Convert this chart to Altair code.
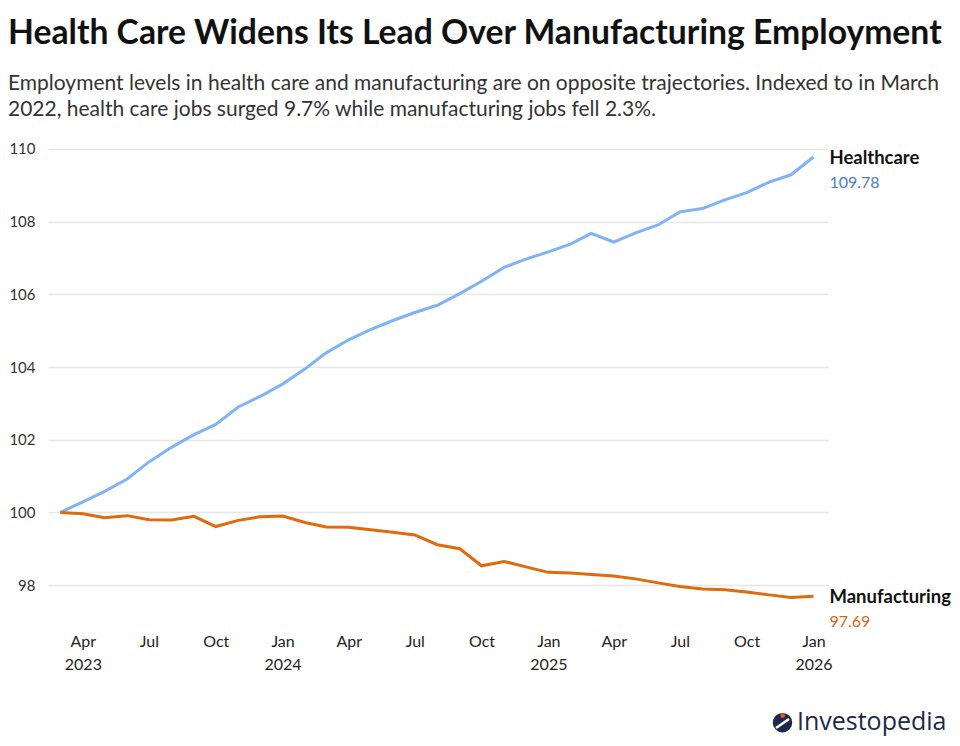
import altair as alt
import pandas as pd

months = pd.date_range("2023-03-01", "2026-01-01", freq="MS").strftime("%Y-%m-%d").tolist()

healthcare = [100.0, 100.29, 100.58, 100.92, 101.39, 101.79, 102.14, 102.42, 102.90, 103.19,
              103.53, 103.95, 104.39, 104.75, 105.03, 105.28, 105.50, 105.70, 106.02,
              106.36, 106.74, 106.97, 107.17, 107.39, 107.68, 107.44, 107.69, 107.91,
              108.27, 108.36, 108.60, 108.80, 109.09, 109.29, 109.78]
manufacturing = [100.0, 99.96, 99.85, 99.91, 99.80, 99.79, 99.89, 99.61, 99.78, 99.88,
                 99.90, 99.72, 99.60, 99.59, 99.52, 99.45, 99.38, 99.11, 99.00,
                 98.53, 98.65, 98.50, 98.35, 98.33, 98.29, 98.25, 98.17, 98.06,
                 97.96, 97.89, 97.87, 97.81, 97.73, 97.66, 97.69]

series_names = ["Healthcare", "Manufacturing"]
line_colors = ["#80b3f6", "#e06a0c"]
value_colors = ["#4a7cc4", "#d2661a"]
y_ticks = [98, 100, 102, 104, 106, 108, 110]
tick_dates = ["2023-04-01", "2023-07-01", "2023-10-01", "2024-01-01", "2024-04-01", "2024-07-01",
              "2024-10-01", "2025-01-01", "2025-04-01", "2025-07-01", "2025-10-01", "2026-01-01"]

title_text = "Health Care Widens Its Lead Over Manufacturing Employment"
subtitle_lines = [
    "Employment levels in health care and manufacturing are on opposite trajectories. Indexed to in March",
    "2022, health care jobs surged 9.7% while manufacturing jobs fell 2.3%.",
]

df = pd.DataFrame({
    "date": months * 2,
    "series": [series_names[0]] * len(months) + [series_names[1]] * len(months),
    "value": healthcare + manufacturing,
})
df_end = pd.DataFrame({
    "date": [months[-1]] * 2,
    "series": series_names,
    "value": [healthcare[-1], manufacturing[-1]],
    "vcolor": value_colors,
})

FONT = "Lato"


def dt(s):
    y, m, d = (int(p) for p in s.split("-"))
    return alt.DateTime(year=y, month=m, date=d, utc=True)


x_enc = alt.X(
    "date:T",
    scale=alt.Scale(type="utc", domain=[dt("2023-02-12"), dt("2026-01-21")]),
    axis=alt.Axis(
        values=[dt(s) for s in tick_dates],
        labelExpr="(utcmonth(datum.value)==0 || (utcyear(datum.value)==2023 && utcmonth(datum.value)==3)) ? [utcFormat(datum.value,'%b'), utcFormat(datum.value,'%Y')] : utcFormat(datum.value,'%b')",
        grid=False, domain=False, ticks=False, labelPadding=12,
        labelFontSize=16, labelColor="#222", labelLineHeight=23, labelFont=FONT,
        title=None,
    ),
)
y_enc = alt.Y(
    "value:Q",
    scale=alt.Scale(domain=[97, 110], nice=False, zero=False),
    axis=alt.Axis(
        values=y_ticks, domain=False, ticks=False, labelPadding=13,
        labelFontSize=15, labelColor="#333", labelFont=FONT,
        gridColor="#e6e6e6", gridWidth=1.5, title=None,
    ),
)
color_enc = alt.Color("series:N", scale=alt.Scale(domain=series_names, range=line_colors), legend=None)

lines = alt.Chart(df).mark_line(strokeWidth=3).encode(x=x_enc, y=y_enc, color=color_enc)

names = alt.Chart(df_end).mark_text(
    align="left", dx=16, dy=1, fontSize=18.5, fontWeight="bold", color="#111", font=FONT
).encode(x="date:T", y="value:Q", text="series:N")

vals = alt.Chart(df_end).mark_text(
    align="left", dx=16, dy=26, fontSize=16, font=FONT
).encode(
    x="date:T", y="value:Q", text=alt.Text("value:Q", format=".2f"),
    color=alt.Color("vcolor:N", scale=None, legend=None),
)

logo_df = pd.DataFrame({"t": ["Investopedia"]})
logo_circle = alt.Chart(logo_df).mark_point(
    shape="circle", filled=True, size=380, color="#1b2a4a", opacity=1
).encode(x=alt.value(734.5), y=alt.value(573.7))
logo_stroke = alt.Chart(logo_df).mark_rule(
    color="white", strokeWidth=2.5
).encode(x=alt.value(728), x2=alt.value(741), y=alt.value(579), y2=alt.value(570))
logo_dot = alt.Chart(logo_df).mark_point(
    shape="circle", filled=True, size=22, color="#e8501e", opacity=1
).encode(x=alt.value(734.7), y=alt.value(566.7))
logo_text = alt.Chart(logo_df).mark_text(
    align="left", baseline="middle", fontSize=25, color="#1b2a4a", font="Open Sans"
).encode(x=alt.value(749), y=alt.value(573), text="t:N")

chart = alt.layer(lines, names, vals, logo_circle, logo_stroke, logo_dot, logo_text).properties(
    width=780,
    height=472.4,
    padding={"left": 40, "top": 141, "right": 124, "bottom": 115},
    autosize="none",
    title=alt.TitleParams(
        text=title_text,
        subtitle=subtitle_lines,
        anchor="start",
        frame="group",
        dx=-40,
        offset=22,
        font=FONT,
        fontSize=33.7,
        fontWeight="bold",
        color="#111",
        subtitleFont=FONT,
        subtitleFontSize=21,
        subtitleColor="#333",
        subtitleLineHeight=26,
        subtitlePadding=22,
    ),
).configure_view(stroke=None)

chart.save("out.html", embed_options={"renderer": "svg", "actions": False})
